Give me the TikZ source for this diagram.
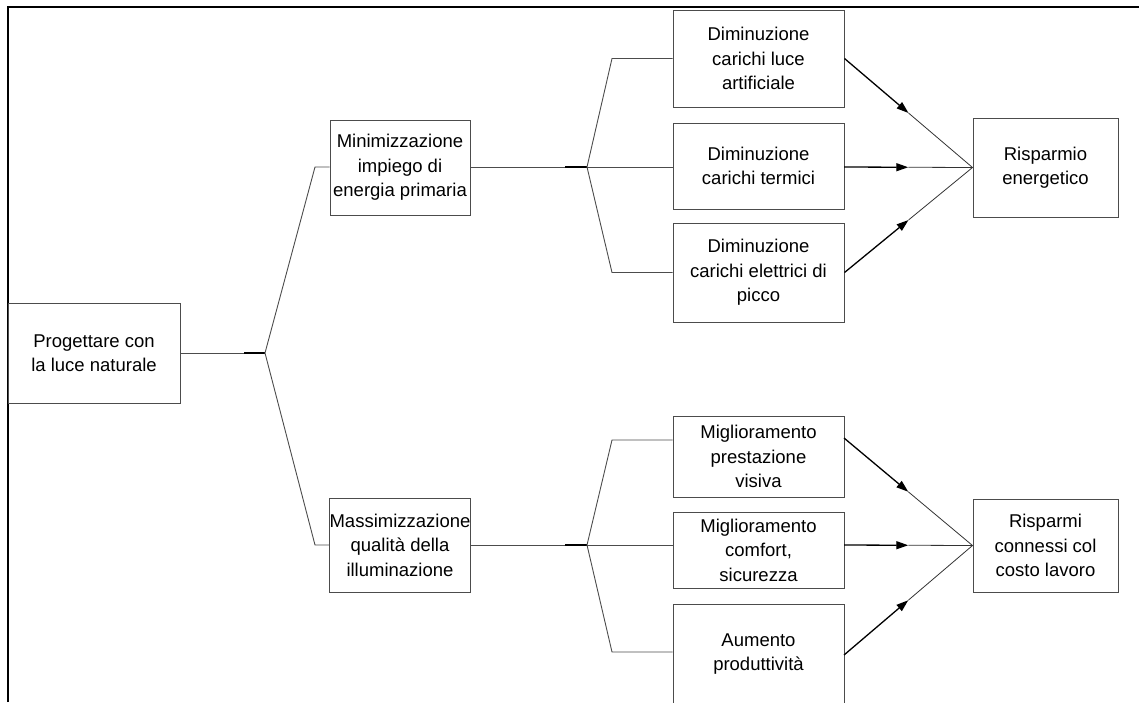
\documentclass[tikz,border=0pt]{standalone}
\usepackage{fontspec}
\setmainfont{Liberation Sans}
\usetikzlibrary{arrows.meta,calc}
\tikzset{
  box/.style={draw=black!70, line width=1pt, fill=white, align=center, inner sep=0pt,
    font=\fontsize{18.5}{24.5}\selectfont},
  conn/.style={draw=black!70, line width=0.9pt},
  thickseg/.style={draw=black, line width=2pt},
  frame/.style={draw=black, line width=2pt},
  arrfirst/.style={draw=black, line width=1.3pt, -{Triangle[length=12pt,width=8pt]}},
  arrsecond/.style={draw=black!80, line width=0.8pt},
}
\begin{document}
\begin{tikzpicture}[x=1pt,y=-1pt]
\useasboundingbox (0,0) rectangle (1139,702);
% frame
\draw[frame] (7.5,702) -- (7.5,6.5) coordinate (fr) -- (1139,6.5);
% boxes
\node[box, minimum width=172pt, minimum height=100pt] (prog) at (94,353) {Progettare con\\la luce naturale};
\node[box, minimum width=140pt, minimum height=95pt] (mini) at (400,167.5) {Minimizzazione\\impiego di\\energia primaria};
\node[box, minimum width=140pt, minimum height=94pt] (mass) at (400,545) {Massimizzazione\\qualità della\\illuminazione};
\node[box, minimum width=171pt, minimum height=97pt] (d1) at (758.5,58.5) {Diminuzione\\carichi luce\\artificiale};
\node[box, minimum width=171pt, minimum height=86pt] (d2) at (758.5,166) {Diminuzione\\carichi termici};
\node[box, minimum width=171pt, minimum height=99pt] (d3) at (758.5,272.5) {Diminuzione\\carichi elettrici di\\picco};
\node[box, minimum width=145pt, minimum height=99pt] (re) at (1045.5,167.5) {Risparmio\\energetico};
\node[box, minimum width=171pt, minimum height=81pt] (m1) at (758.5,456.5) {Miglioramento\\prestazione\\visiva};
\node[box, minimum width=171pt, minimum height=76pt] (m2) at (758.5,550) {Miglioramento\\comfort,\\sicurezza};
\node[box, minimum width=171pt, minimum height=100pt] (m3) at (758.5,654) {Aumento\\produttività};
\node[box, minimum width=145pt, minimum height=93pt] (rc) at (1045.5,545.5) {Risparmi\\connessi col\\costo lavoro};
% branch coordinates
\coordinate (t0) at (244,353);
\coordinate (b0) at (265,353);
\coordinate (t1) at (565,167);
\coordinate (b1) at (587,167);
\coordinate (t2) at (565,545);
\coordinate (b2) at (587,545);
% main branch
\draw[conn] (prog.east) -- (t0);
\draw[thickseg] (t0) -- (b0);
\draw[conn] (b0) -- (315,167) -- (315,167 -| mini.west);
\draw[conn] (b0) -- (315,545) -- (315,545 -| mass.west);
% upper branch
\draw[conn] (470,167) -- (t1);
\draw[thickseg] (t1) -- (b1);
\draw[conn] (b1) -- (612,58.5) -- (d1.west);
\draw[conn] (b1) -- (b1 -| d2.west);
\draw[conn] (b1) -- (612,272.5) -- (d3.west);
% lower branch
\draw[conn] (mass.east) -- (t2);
\draw[thickseg] (t2) -- (b2);
\draw[conn] (b2) -- (612,440) -- (612,440 -| m1.west);
\draw[conn] (b2) -- (b2 -| m2.west);
\draw[conn] (b2) -- (612,652) -- (612,652 -| m3.west);
% arrows upper
\coordinate (a1) at (d1.east);
\coordinate (a2) at (844,167);
\coordinate (a3) at (d3.east);
\coordinate (r1) at (re.west);
\draw[arrfirst] (a1) -- ($(a1)!0.5!(r1)$);
\draw[arrsecond] ($(a1)!0.5!(r1)$) -- (r1);
\draw[arrfirst] (a2) -- ($(a2)!0.5!(r1)$);
\draw[arrsecond] ($(a2)!0.5!(r1)$) -- (r1);
\draw[arrfirst] (a3) -- ($(a3)!0.5!(r1)$);
\draw[arrsecond] ($(a3)!0.5!(r1)$) -- (r1);
% arrows lower
\coordinate (c1) at (844,438);
\coordinate (c2) at (844,545);
\coordinate (c3) at (844,655);
\coordinate (r2) at (rc.west);
\draw[arrfirst] (c1) -- ($(c1)!0.5!(r2)$);
\draw[arrsecond] ($(c1)!0.5!(r2)$) -- (r2);
\draw[arrfirst] (c2) -- ($(c2)!0.5!(r2)$);
\draw[arrsecond] ($(c2)!0.5!(r2)$) -- (r2);
\draw[arrfirst] (c3) -- ($(c3)!0.5!(r2)$);
\draw[arrsecond] ($(c3)!0.5!(r2)$) -- (r2);
\end{tikzpicture}
\end{document}
